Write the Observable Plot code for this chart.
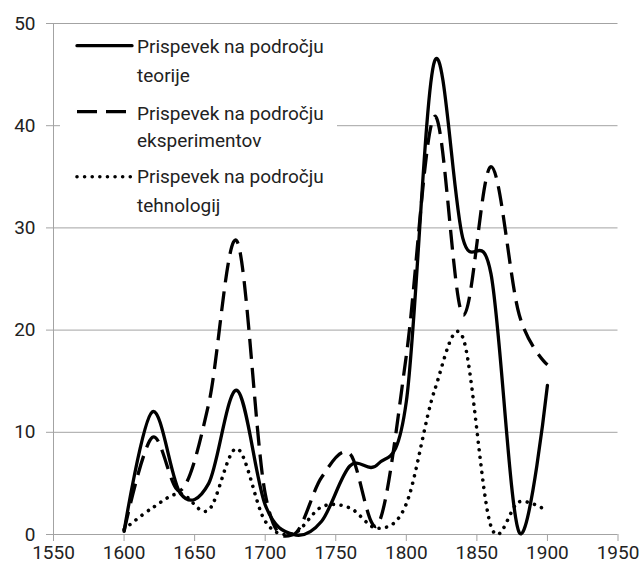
<!DOCTYPE html>
<html><head><meta charset="utf-8">
<script src="https://cdn.jsdelivr.net/npm/d3@7"></script>
<script src="https://cdn.jsdelivr.net/npm/@observablehq/plot@0.6"></script>
<style>
body{margin:0;background:#fff;}
#wrap{position:relative;width:643px;height:569px;font-family:Roboto,"Open Sans",sans-serif;}
#legend{position:absolute;left:60px;top:28px;width:277px;height:190px;background:#fff;}
</style></head><body><div id="wrap"></div>
<script>
const years = [1600,1620,1640,1660,1680,1700,1720,1740,1760,1780,1800,1820,1840,1860,1880,1900];
const teorija = [0.3,12,4,5,14.1,2.9,0,1.3,6.7,6.9,13,46.3,29,25.5,0.2,14.6];
const eksperimenti = [0.3,9.5,4.3,12.8,28.7,4,0,5.6,7.9,1.0,17.5,40.9,21.5,36,21.5,16.6];
const tehnologije = [0.5,2.6,4.0,2.4,8.4,1.3,0.1,2.7,2.6,0.6,3.0,14.1,19.3,0.8,3.2,2.3];
const seriesNames = ["Prispevek na področju teorije","Prispevek na področju eksperimentov","Prispevek na področju tehnologij"];
const legendLines = [["Prispevek na področju","teorije"],["Prispevek na področju","eksperimentov"],["Prispevek na področju","tehnologij"]];
const xTicks = [1550,1600,1650,1700,1750,1800,1850,1900,1950];
const yTicks = [0,10,20,30,40,50];

const seriesValues = [teorija, eksperimenti, tehnologije];
const styles = [
  {strokeWidth:3.3, dash:null, cap:"round"},
  {strokeWidth:3.3, dash:"20,9", cap:"butt"},
  {strokeWidth:3.6, dash:"0.01,7.6", cap:"round"}
];
const data = [];
seriesNames.forEach((s,i)=>years.forEach((y,j)=>data.push({year:y,value:seriesValues[i][j],series:s})));

const gray = "#a3a3a3";
const lineMarks = seriesNames.map((s,i)=>Plot.line(data.filter(d=>d.series===s),{
  x:"year", y:"value", curve:"cardinal", stroke:"#000",
  strokeWidth:styles[i].strokeWidth, strokeDasharray:styles[i].dash, strokeLinecap:styles[i].cap, strokeLinejoin:"round"
}));

const chart = Plot.plot({
  width:643, height:569,
  marginLeft:53, marginRight:25.5, marginTop:23, marginBottom:35,
  style:{fontFamily:"Roboto, 'Open Sans', sans-serif", fontSize:"19px", color:"#222", background:"#fff"},
  x:{domain:[1550,1950], axis:null},
  y:{domain:[0,50], axis:null},
  marks:[
    Plot.gridY(yTicks,{stroke:gray, strokeOpacity:1, strokeWidth:1}),
    Plot.ruleX([1550],{stroke:gray, strokeWidth:1}),
    Plot.axisX(xTicks,{label:null, tickSize:7, tickPadding:4, tickFormat:d=>String(d), stroke:gray, fill:"#222", fontSize:19}),
    Plot.axisY(yTicks,{label:null, tickSize:7, tickPadding:11, stroke:gray, fill:"#222", fontSize:19}),
    ...lineMarks
  ]
});
const wrap = document.getElementById("wrap");
wrap.appendChild(chart);

// legend overlay (inside plot area, white background)
const leg = d3.select(wrap).append("div").attr("id","legend")
  .append("svg").attr("width",277).attr("height",190)
  .style("font-family","Roboto, 'Open Sans', sans-serif").style("font-size","19px");
const rowY = [17.7, 83.7, 148.7];
const base1 = [25.3, 92, 155.3];
const base2 = [53.7, 118.7, 183.7];
seriesNames.forEach((s,i)=>{
  leg.append("line").attr("x1",17).attr("x2",72).attr("y1",rowY[i]).attr("y2",rowY[i])
    .attr("stroke","#000").attr("stroke-width",styles[i].strokeWidth)
    .attr("stroke-dasharray",styles[i].dash).attr("stroke-linecap",styles[i].cap);
  leg.append("text").attr("x",77).attr("y",base1[i]).attr("fill","#222").text(legendLines[i][0]);
  leg.append("text").attr("x",77).attr("y",base2[i]).attr("fill","#222").text(legendLines[i][1]);
});
</script></body></html>
